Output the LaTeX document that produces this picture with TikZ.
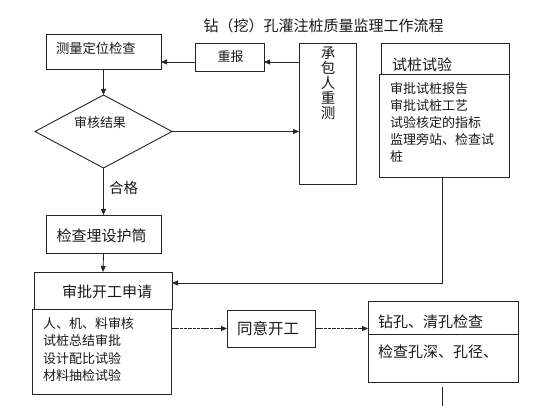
\documentclass[tikz,border=0pt]{standalone}
\usepackage{fontspec}
\setmainfont{Noto Sans CJK SC}
\usetikzlibrary{arrows.meta,shapes.geometric}
\newcommand{\fsz}[2]{\fontsize{#1}{#2}\selectfont}
\begin{document}
\begin{tikzpicture}[x=1pt,y=-1pt,
  box/.style={draw=black!85, line width=0.9pt, inner sep=0pt, outer sep=0pt},
  txt/.style={inner sep=0pt, outer sep=0pt, text=black!90},
  arr/.style={draw=black!85, line width=0.9pt, -{Triangle[length=6pt,width=5pt]}},
  ln/.style={draw=black!85, line width=0.9pt},
  dsh/.style={dash pattern=on 3.5pt off 0.8pt}]
\useasboundingbox (0,0) rectangle (560,406);
\fill[white] (0,0) rectangle (560,406);

% title
\node[txt, font=\fsz{15}{18}] (title) at (323.5,26) {钻（挖）孔灌注桩质量监理工作流程};

% boxes
\node[box, minimum width=115pt, minimum height=35pt] (m) at (103.5,51.5) {};
\node[box, minimum width=69pt, minimum height=28pt] (cb) at (229.5,57) {};
\node[box, minimum width=57pt, minimum height=141pt] (cs) at (327.5,113.5) {};
\node[box, diamond, minimum width=137pt, minimum height=73pt] (dia) at (103.5,131.5) {};
\node[box, minimum width=115pt, minimum height=38pt] (tb) at (103.5,234) {};
\node[box, minimum width=138pt, minimum height=37pt] (sp) at (103,290.5) {};
\node[box, minimum width=139pt, minimum height=85pt] (spl) at (101.5,351.5) {};
\node[box, minimum width=88pt, minimum height=37pt] (ty) at (271,328.5) {};
\node[box, minimum width=150pt, minimum height=33pt] (zkt) at (443,317.5) {};
\node[box, minimum width=150pt, minimum height=48pt] (zkb) at (443,358) {};
\node[box, minimum width=128pt, minimum height=31pt] (sto) at (445,58.5) {};
\node[box, minimum width=130pt, minimum height=103pt] (sti) at (444,125.5) {};

% texts
\node[txt, anchor=west, font=\fsz{13.3}{16}] (tm) at (56,48) {测量定位检查};
\node[txt, font=\fsz{13}{16}] (tcb) at (230.5,57) {重报};
\node[txt, anchor=north, align=center, font=\fsz{14.5}{15}] (tcs) at (328,47) {承\\包\\人\\重\\测};
\node[txt, font=\fsz{13}{16}] (tdia) at (100,123) {审核结果};
\node[txt, anchor=west, font=\fsz{14.5}{17}] (thg) at (109,188) {合格};
\node[txt, font=\fsz{15}{18}] (ttb) at (101.5,236) {检查埋设护筒};
\node[txt, font=\fsz{15}{18}] (tsp) at (107,292) {审批开工申请};
\node[txt, anchor=west, align=left, font=\fsz{13}{17.5}] (tspl) at (43,349.3)
  {人、机、料审核\\试桩总结审批\\设计配比试验\\材料抽检试验};
\node[txt, font=\fsz{15.5}{18}] (tty) at (268,329) {同意开工};
\node[txt, anchor=west, font=\fsz{15}{18}] (tzkt) at (378,322) {钻孔、清孔检查};
\node[txt, anchor=west, font=\fsz{15}{18}] (tzkb) at (378,352) {检查孔深、孔径、};
\node[txt, anchor=west, font=\fsz{15}{18}] (tsto) at (392,65) {试桩试验};
\node[txt, anchor=west, align=left, font=\fsz{13}{17}] (tsti) at (390,123)
  {审批试桩报告\\审批试桩工艺\\试验核定的指标\\监理旁站、检查试\\桩};

% connectors
\coordinate (ry) at (0,62);
\draw[arr] (cs.west |- ry) -- (cb.east |- ry);
\draw[arr] (cb.west |- ry) -- (m.east |- ry);
\draw[arr] (m.south) -- (dia.north);
\draw[arr] (dia.east) -- (cs.west |- dia.east);
\draw[arr] (dia.south) -- (tb.north);
\draw[arr] (tb.south) -- (sp.north);
\coordinate (j) at (442,283);
\draw[arr] (sti.south -| j) -- (j) -- (sp.east |- j);
\draw[arr, dsh] (spl.east |- ty.west) -- (ty.west);
\draw[arr, dsh] (ty.east) -- (zkt.west |- ty.east);
\coordinate (e1) at (442,387);
\coordinate (e2) at (442,406);
\draw[ln] (e1) -- (e2);
\end{tikzpicture}
\end{document}
